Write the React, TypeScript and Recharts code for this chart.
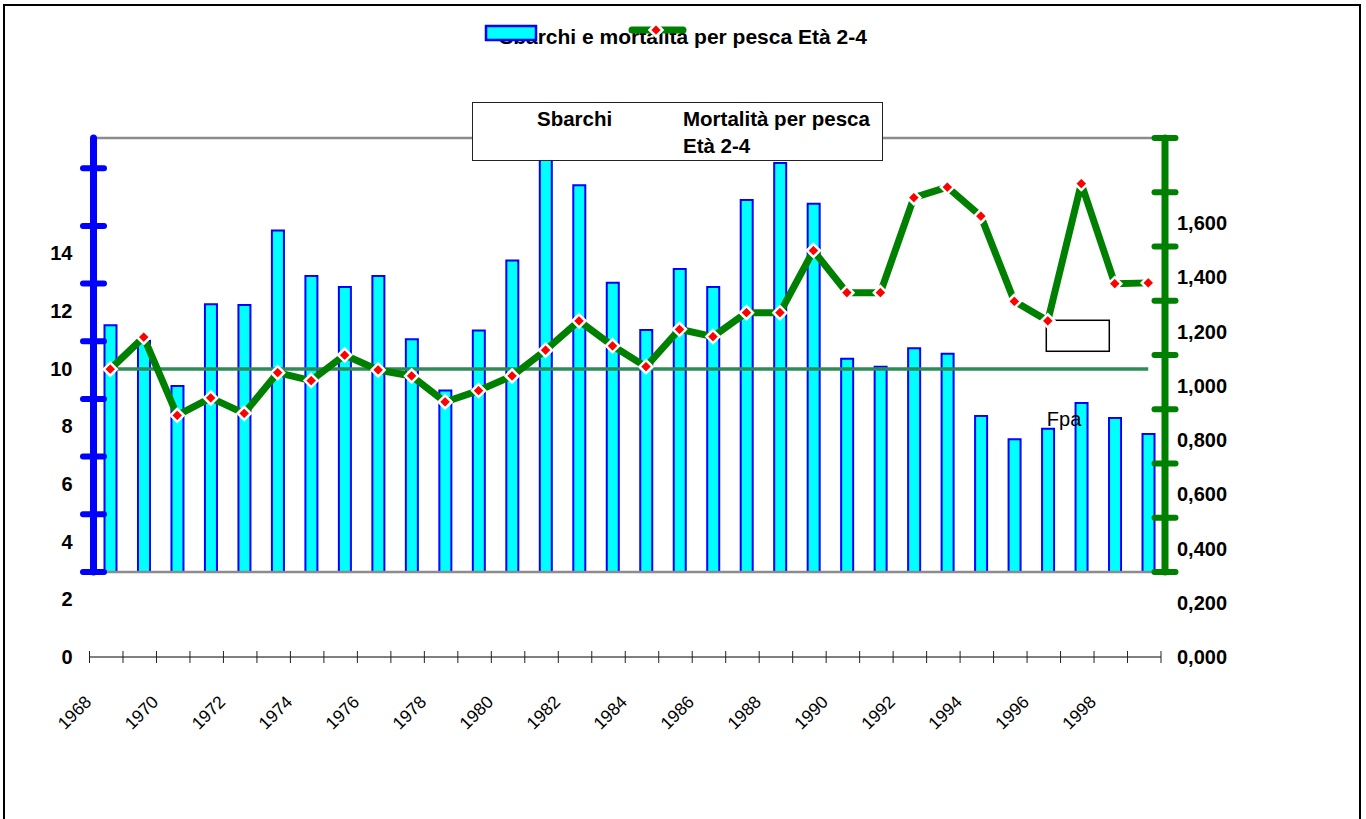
import {
  ComposedChart,
  Bar,
  Line,
  XAxis,
  YAxis,
  Legend,
  ReferenceLine,
  ReferenceDot,
} from 'recharts'

const FONT = '"Liberation Sans", Arial, sans-serif'

const years = [
  '1968', '1969', '1970', '1971', '1972', '1973', '1974', '1975',
  '1976', '1977', '1978', '1979', '1980', '1981', '1982', '1983',
  '1984', '1985', '1986', '1987', '1988', '1989', '1990', '1991',
  '1992', '1993', '1994', '1995', '1996', '1997', '1998', '1999',
]

// Sbarchi (left axis)
const sbarchi = [
  11.51, 10.97, 9.4, 12.23, 12.21, 14.79, 13.21, 12.83,
  13.21, 11.02, 9.24, 11.32, 13.75, 17.5, 16.36, 12.98,
  11.34, 13.46, 12.83, 15.85, 17.13, 15.72, 10.34, 10.07,
  10.71, 10.52, 8.36, 7.55, 7.92, 8.81, 8.29, 7.73,
]

// Mortalità per pesca Età 2-4 (right axis)
const mortalita = [
  1.061, 1.179, 0.891, 0.955, 0.898, 1.048, 1.019, 1.113,
  1.058, 1.036, 0.94, 0.982, 1.036, 1.131, 1.239, 1.147,
  1.07, 1.208, 1.181, 1.269, 1.269, 1.498, 1.343, 1.343,
  1.693, 1.732, 1.625, 1.311, 1.239, 1.745, 1.376, 1.379,
]

const fpa = [
  1.062, 1.062, 1.062, 1.062, 1.062, 1.062, 1.062, 1.062,
  1.062, 1.062, 1.062, 1.062, 1.062, 1.062, 1.062, 1.062,
  1.062, 1.062, 1.062, 1.062, 1.062, 1.062, 1.062, 1.062,
  1.062, 1.062, 1.062, 1.062, 1.062, 1.062, 1.062, 1.062,
]

const leftTicks = [0, 2, 4, 6, 8, 10, 12, 14]
const rightTicks = [0, 0.2, 0.4, 0.6, 0.8, 1.0, 1.2, 1.4, 1.6]

// the thick drawn axes only cover part of the label scale
const barFloor = 2.95
const leftTop = 18
const rightFloor = 0.313
const rightTop = 1.913
const blueMarks = [2.95, 4.95, 6.95, 8.95, 10.95, 12.95, 14.95, 16.95]
const greenMarks = [0.313, 0.513, 0.713, 0.913, 1.113, 1.313, 1.513, 1.713, 1.913]

const data = years.map((year, i) => ({
  year,
  sbarchi: sbarchi[i],
  mortalita: mortalita[i],
  fpa: fpa[i],
}))

function Diamond(props: any) {
  const { cx, cy, index } = props
  if (cx == null || cy == null) return <g key={`d-${index}`} />
  return (
    <path
      key={`d-${index}`}
      d={`M${cx},${cy - 6.5} L${cx + 6.5},${cy} L${cx},${cy + 6.5} L${cx - 6.5},${cy} Z`}
      fill="#ff0000"
      stroke="#ffffff"
      strokeWidth={2.5}
    />
  )
}

// x axis: ticks between the categories, label on every second boundary
function YearTick(props: any) {
  const { x, y, payload, index } = props
  const half = payload?.offset || 16.74
  const left = x - half - 4
  const right = x + half - 4
  const label = index % 2 === 0 ? years[index] : undefined
  const ax = left + 3
  const ay = y + 46
  return (
    <g>
      <line x1={left} y1={y} x2={right} y2={y} stroke="#000" strokeWidth={1} />
      <line x1={left} y1={y - 6} x2={left} y2={y + 6} stroke="#222" strokeWidth={1} />
      {index === years.length - 1 && (
        <line x1={right} y1={y - 6} x2={right} y2={y + 6} stroke="#222" strokeWidth={1} />
      )}
      {label && (
        <text
          x={ax}
          y={ay}
          textAnchor="end"
          transform={`rotate(-45, ${ax}, ${ay})`}
          fontSize={17.5}
          fill="#000"
        >
          {label}
        </text>
      )}
    </g>
  )
}

const blueMark = (p: any) => {
  const x = Math.min(p.x1, p.x2)
  return <line x1={x - 10.5} y1={p.y1} x2={x + 10.5} y2={p.y1} stroke="#0000ff" strokeWidth={6} strokeLinecap="round" />
}
const greenMark = (p: any) => {
  const x = Math.max(p.x1, p.x2)
  return <line x1={x - 10.5} y1={p.y1} x2={x + 10.5} y2={p.y1} stroke="#008000" strokeWidth={6} strokeLinecap="round" />
}
const emptyBox = (p: any) => (
  <rect x={p.cx - 35} y={p.cy - 15.5} width={63} height={31} fill="none" stroke="#000" strokeWidth={1.5} />
)

function LegendBox() {
  return (
    <div
      style={{
        position: 'relative',
        width: 411,
        height: 59,
        boxSizing: 'border-box',
        border: '1.5px solid #222',
        background: '#fff',
        fontFamily: FONT,
        fontWeight: 'bold',
        fontSize: 20.5,
        color: '#000',
        lineHeight: '24px',
      }}
    >
      <span style={{ position: 'absolute', left: 64, top: 4 }}>Sbarchi</span>
      <span style={{ position: 'absolute', left: 210, top: 4 }}>Mortalità per pesca</span>
      <span style={{ position: 'absolute', left: 210, top: 31 }}>Età 2-4</span>
    </div>
  )
}

export default function App() {
  return (
    <div
      style={{
        position: 'absolute',
        left: 0,
        top: 0,
        width: 1366,
        height: 819,
        overflow: 'hidden',
        background: '#fff',
        fontFamily: FONT,
      }}
    >
      <div
        style={{
          position: 'absolute',
          left: 3,
          top: 4,
          width: 1358,
          height: 900,
          border: '2px solid #000',
          boxSizing: 'border-box',
        }}
      />

      <div style={{ position: 'absolute', left: 0, top: 0 }}>
        <ComposedChart
          width={1366}
          height={819}
          data={data}
          margin={{ top: 138, right: 0, left: 0, bottom: 0 }}
        >
          <XAxis
            dataKey="year"
            interval={0}
            height={162}
            tickSize={0}
            tickMargin={0}
            tickLine={false}
            axisLine={false}
            tick={<YearTick />}
          />
          <YAxis
            yAxisId="left"
            orientation="left"
            width={93.5}
            domain={[0, leftTop]}
            ticks={leftTicks}
            axisLine={false}
            tickLine={false}
            tickSize={0}
            tickMargin={21}
            tick={{ fill: '#000', fontSize: 20, fontWeight: 'bold' }}
          />
          <YAxis
            yAxisId="right"
            orientation="right"
            width={201}
            domain={[0, rightTop]}
            ticks={rightTicks}
            axisLine={false}
            tickLine={false}
            tickSize={0}
            tickMargin={12}
            tickFormatter={(v: number) => v.toFixed(3).replace('.', ',')}
            tick={{ fill: '#000', fontSize: 20, fontWeight: 'bold' }}
          />

          <Legend
            verticalAlign="middle"
            align="center"
            layout="horizontal"
            wrapperStyle={{ left: 472, top: 102, width: 411, height: 59 }}
            content={() => <LegendBox />}
          />

          {/* grey frame lines of the plot area */}
          <ReferenceLine yAxisId="left" y={leftTop} stroke="#8c8c8c" strokeWidth={2.5} ifOverflow="visible" />
          <ReferenceLine yAxisId="left" y={barFloor} stroke="#8c8c8c" strokeWidth={2.5} ifOverflow="visible" />

          <Bar
            yAxisId="left"
            name="Sbarchi"
            dataKey={(d: any) => [barFloor, d.sbarchi]}
            fill="#00ffff"
            stroke="#0000ff"
            strokeWidth={2}
            barSize={12}
            isAnimationActive={false}
          />

          <Line
            yAxisId="right"
            name="Fpa"
            dataKey="fpa"
            stroke="#2e8b57"
            strokeWidth={3.5}
            dot={false}
            activeDot={false}
            isAnimationActive={false}
          />

          <Line
            yAxisId="right"
            name="Mortalità per pesca Età 2-4"
            dataKey="mortalita"
            stroke="#008000"
            strokeWidth={7}
            strokeLinejoin="round"
            dot={Diamond}
            activeDot={false}
            isAnimationActive={false}
          />

          {/* thick left axis */}
          <ReferenceLine
            yAxisId="left"
            segment={[{ x: years[0], y: barFloor }, { x: years[0], y: leftTop }]}
            position="start"
            stroke="#0000ff"
            strokeWidth={7}
            strokeLinecap="round"
            ifOverflow="visible"
          />
          {blueMarks.map((m) => (
            <ReferenceLine key={`b${m}`} yAxisId="left" y={m} ifOverflow="visible" shape={blueMark} />
          ))}

          {/* thick right axis */}
          <ReferenceLine
            yAxisId="right"
            segment={[
              { x: years[years.length - 1], y: rightFloor },
              { x: years[years.length - 1], y: rightTop },
            ]}
            position="end"
            stroke="#008000"
            strokeWidth={7}
            strokeLinecap="round"
            ifOverflow="visible"
          />
          {greenMarks.map((m) => (
            <ReferenceLine key={`g${m}`} yAxisId="right" y={m} ifOverflow="visible" shape={greenMark} />
          ))}

          <ReferenceDot
            yAxisId="right"
            x="1997"
            y={1.184}
            r={1}
            ifOverflow="visible"
            shape={emptyBox}
          />
          <ReferenceDot
            yAxisId="right"
            x="1997"
            y={0.877}
            r={0}
            fill="none"
            stroke="none"
            ifOverflow="visible"
            label={{ value: 'Fpa', position: 'left', offset: 0, fill: '#000', fontSize: 20 }}
          />
        </ComposedChart>
      </div>

      {/* title with the legend markers drawn over it */}
      <div
        style={{
          position: 'absolute',
          left: 0,
          top: 26,
          width: 1366,
          textAlign: 'center',
          fontSize: 21,
          fontWeight: 'bold',
          lineHeight: '22px',
          color: '#000',
        }}
      >
        Sbarchi e mortalità per pesca Età 2-4
      </div>
      <svg width={1366} height={60} style={{ position: 'absolute', left: 0, top: 0 }}>
        <rect x={486} y={26} width={50} height={14} fill="#00ffff" stroke="#0000ff" strokeWidth={2.5} />
        <line x1={632} y1={30} x2={683} y2={30} stroke="#008000" strokeWidth={7} strokeLinecap="round" />
        <path d="M656,23.5 L662.5,30 L656,36.5 L649.5,30 Z" fill="#ff0000" stroke="#ffffff" strokeWidth={2.5} />
      </svg>
    </div>
  )
}
